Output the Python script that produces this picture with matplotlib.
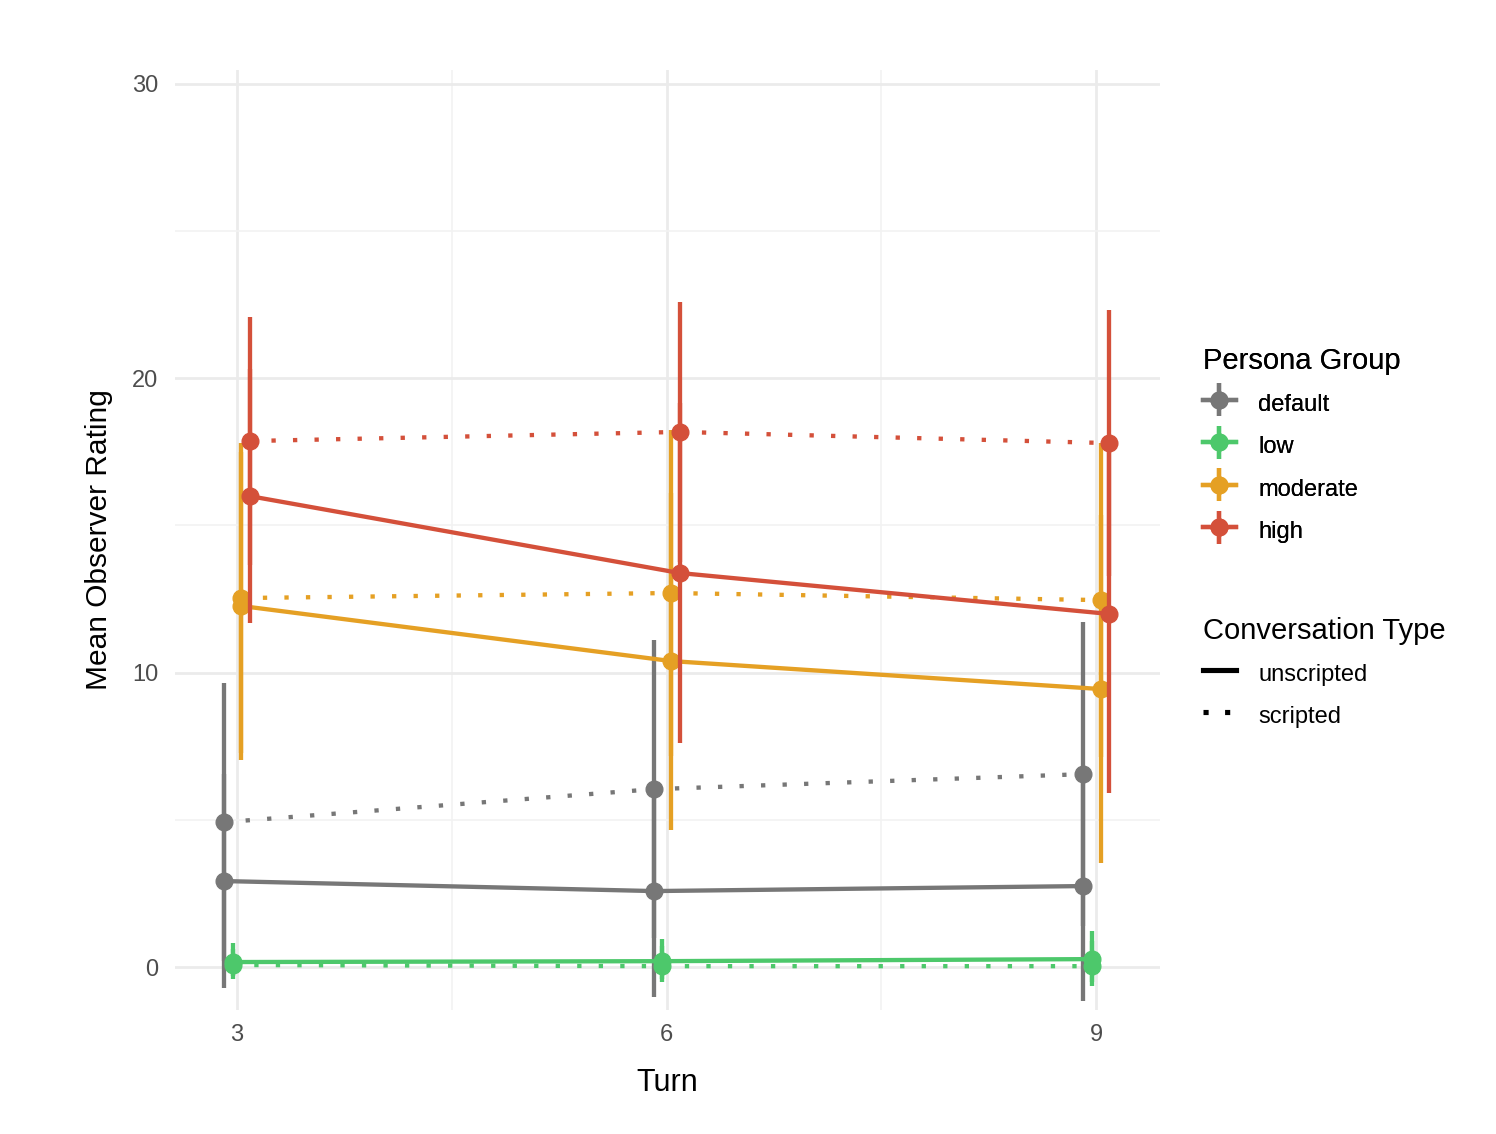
import matplotlib
matplotlib.use('Agg')
import matplotlib.pyplot as plt
from matplotlib.lines import Line2D
from matplotlib.container import ErrorbarContainer
from matplotlib.legend_handler import HandlerErrorbar
import numpy as np

plt.rcParams['font.family'] = ['Liberation Sans', 'DejaVu Sans']

# data
turns = [3, 6, 9]
groups = ['default', 'low', 'moderate', 'high']
colors = ['#777777', '#4DC86B', '#E5A024', '#D4503A']

# unscripted: mean, lower, upper
unscr_mean = [[2.92, 2.58, 2.75], [0.17, 0.20, 0.27], [12.26, 10.39, 9.44], [15.99, 13.38, 11.99]]
unscr_lo = [[-0.71, -1.02, -1.15], [-0.40, -0.50, -0.65], [7.03, 4.65, 3.53], [11.68, 7.61, 5.91]]
unscr_hi = [[6.55, 6.18, 6.65], [0.81, 0.95, 1.22], [17.50, 16.10, 15.35], [20.30, 19.15, 18.07]]

# scripted: mean, lower, upper
scr_mean = [[4.92, 6.04, 6.55], [0.07, 0.03, 0.03], [12.53, 12.70, 12.46], [17.86, 18.17, 17.79]]
scr_lo = [[0.20, 0.98, 1.39], [-0.30, -0.40, -0.50], [7.26, 7.17, 7.12], [13.65, 13.76, 13.27]]
scr_hi = [[9.64, 11.10, 11.71], [0.60, 0.70, 0.90], [17.80, 18.23, 17.80], [22.07, 22.58, 22.31]]

dodge = 0.24
lw = 3.1
ms = 12
dots = (0, (1, 4))

fig = plt.figure(figsize=(14.96, 11.34), dpi=100)
ax = fig.add_axes([0.117, 0.1093, 0.6584, 0.829])

handles = []
for i, g in enumerate(groups):
    off = (i - 1.5) * dodge / 4
    x = np.array(turns) + off
    c = colors[i]
    m = np.array(scr_mean[i])
    err = [m - np.array(scr_lo[i]), np.array(scr_hi[i]) - m]
    ax.errorbar(x, m, yerr=err, color=c, lw=lw, ls=dots, dash_capstyle='butt',
                marker='o', ms=ms, capsize=0, elinewidth=lw, zorder=3 + i)
    m = np.array(unscr_mean[i])
    err = [m - np.array(unscr_lo[i]), np.array(unscr_hi[i]) - m]
    h = ax.errorbar(x, m, yerr=err, color=c, lw=lw, ls='-', marker='o', ms=ms,
                    capsize=0, elinewidth=lw, zorder=3 + i, label=g)
    handles.append(h)

ax.set_xlim(2.567, 9.445)
ax.set_ylim(-1.46, 30.46)
ax.set_xticks(turns)
ax.set_yticks([0, 10, 20, 30])
ax.set_xticks([4.5, 7.5], minor=True)
ax.set_yticks([5, 15, 25], minor=True)
ax.grid(which='major', color='#EBEBEB', lw=2.0)
ax.grid(which='minor', color='#F2F2F2', lw=1.2)
ax.set_axisbelow(True)
for s in ax.spines.values():
    s.set_visible(False)
ax.tick_params(which='both', length=0, labelsize=17, labelcolor='#4D4D4D')
ax.tick_params(axis='x', pad=10)
ax.tick_params(axis='y', pad=12)
ax.set_xlabel('Turn', fontsize=22, labelpad=16)
ax.set_ylabel('Mean Observer Rating', fontsize=21.5, labelpad=14)

leg_kw = dict(loc='upper left', frameon=False, fontsize=17, title_fontsize=21,
              alignment='left', handlelength=1.4, handleheight=1.5, handletextpad=0.95,
              labelspacing=0.58, borderpad=0, borderaxespad=0)
leg1 = fig.legend(handles=handles, labels=groups, title='Persona Group',
                  bbox_to_anchor=(0.804, 0.694),
                  handler_map={ErrorbarContainer: HandlerErrorbar(yerr_size=0.7)}, **leg_kw)
type_handles = [Line2D([], [], color='black', lw=lw + 0.6, ls='-'),
                Line2D([], [], color='black', lw=lw + 0.6, ls=(0, (1, 3.2)), dash_capstyle='butt')]
leg2 = fig.legend(handles=type_handles, labels=['unscripted', 'scripted'], title='Conversation Type',
                  bbox_to_anchor=(0.804, 0.456), **leg_kw)
fig.add_artist(leg1)

fig.savefig('out.png', dpi=100, facecolor='white')
